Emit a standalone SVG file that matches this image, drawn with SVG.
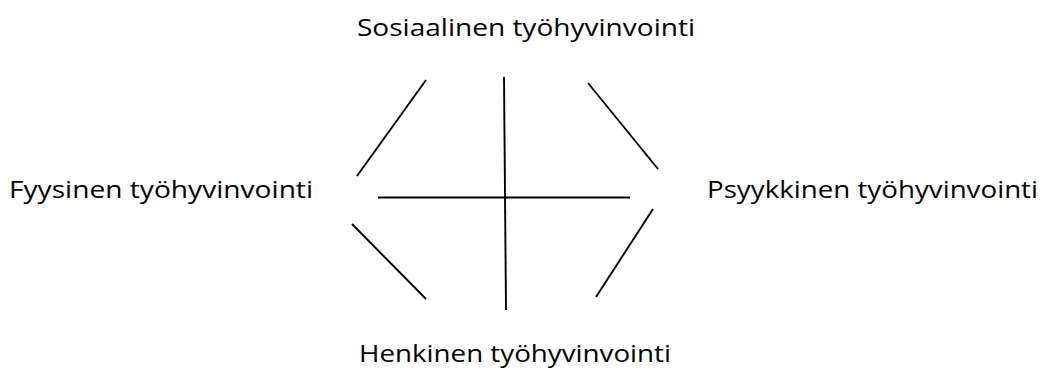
<svg xmlns="http://www.w3.org/2000/svg" width="1043" height="371" viewBox="0 0 1043 371">
<style>
.lbl{font-family:"Open Sans","Noto Sans",sans-serif;font-size:23px;fill:#000}
.ln{stroke:#000;stroke-width:1.9;fill:none}
</style>
<rect width="1043" height="371" fill="#fff"/>
<g id="connectors">
<line class="ln" x1="426" y1="80" x2="357" y2="176"/>
<line class="ln" x1="588" y1="83" x2="658" y2="169"/>
<line class="ln" x1="352" y1="224" x2="426" y2="299"/>
<line class="ln" x1="653" y1="209" x2="596" y2="297"/>
<line class="ln" x1="504" y1="77" x2="506" y2="310"/>
<line class="ln" x1="378" y1="197.5" x2="630" y2="197.5"/>
</g>
<g id="node-sosiaalinen"><text class="lbl" x="357" y="36" textLength="338" lengthAdjust="spacingAndGlyphs">Sosiaalinen työhyvinvointi</text></g>
<g id="node-fyysinen"><text class="lbl" x="9" y="198" textLength="304" lengthAdjust="spacingAndGlyphs">Fyysinen työhyvinvointi</text></g>
<g id="node-psyykkinen"><text class="lbl" x="707" y="198" textLength="331" lengthAdjust="spacingAndGlyphs">Psyykkinen työhyvinvointi</text></g>
<g id="node-henkinen"><text class="lbl" x="359" y="362" textLength="312" lengthAdjust="spacingAndGlyphs">Henkinen työhyvinvointi</text></g>
</svg>
